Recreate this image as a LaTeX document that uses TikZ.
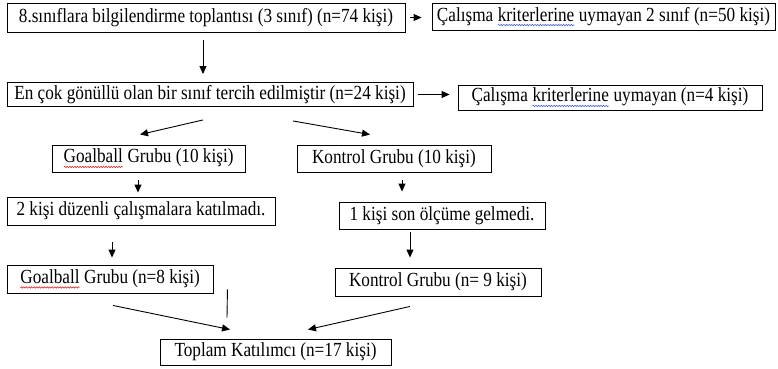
\documentclass[tikz,border=0pt]{standalone}
\usepackage{fontspec}
\setmainfont{Liberation Serif}[FakeStretch=0.86]
\usepackage{tikz}
\usetikzlibrary{arrows.meta,decorations.pathmorphing}
\definecolor{spellred}{RGB}{220,40,40}
\definecolor{spellblue}{RGB}{70,100,210}
\newcommand{\wavy}[2]{\tikz[baseline=(w.base)]{\node[draw=none,minimum width=0pt,minimum height=0pt,
    inner sep=0pt,outer sep=0pt] (w) {#2};
  \draw[#1,line width=0.6pt,decorate,decoration={snake,amplitude=0.7pt,segment length=2.6pt}]
    ([yshift=-4pt]w.base west) -- ([yshift=-4pt]w.base east);}}
\begin{document}
\begin{tikzpicture}[x=1pt,y=-1pt,
     box/.style={draw,line width=0.9pt,inner sep=0pt,minimum height=27pt,
       font=\fontsize{20}{23}\selectfont},
     arr/.style={-{Triangle[length=8pt,width=7pt]},line width=0.9pt}]
    \useasboundingbox (0,0) rectangle (778,368);
    \node[box,minimum width=398pt,minimum height=29pt] (toplanti) at (206,17.5)
      {8.sınıflara bilgilendirme toplantısı (3 sınıf) (n=74 kişi)};
    \node[box,minimum width=343pt] (elenen) at (603.5,16.5)
      {Çalışma \wavy{spellblue}{kriterlerine} uymayan 2 sınıf (n=50 kişi)};
    \node[box,minimum width=406pt,minimum height=24pt] (secilen) at (210,94.5)
      {En çok gönüllü olan bir sınıf tercih edilmiştir (n=24 kişi)};
    \node[box,minimum width=304pt,minimum height=25pt] (uymayan) at (610,97.5)
      {Çalışma \wavy{spellblue}{kriterlerine} uymayan (n=4 kişi)};
    \node[box,minimum width=193pt] (goalball) at (148.5,158.5)
      {\wavy{spellred}{Goalball} Grubu (10 kişi)};
    \node[box,minimum width=194pt] (kontrol) at (394,158.5)
      {Kontrol Grubu (10 kişi)};
    \node[box,minimum width=268pt,minimum height=28pt] (katilmayan) at (141,211)
      {2 kişi düzenli çalışmalara katılmadı.};
    \node[box,minimum width=206pt] (gelmeyen) at (442,215.5)
      {1 kişi son ölçüme gelmedi.};
    \node[box,minimum width=206pt,minimum height=28pt] (goalsonra) at (110,279)
      {\wavy{spellred}{Goalball} Grubu (n=8 kişi)};
    \node[box,minimum width=206pt,minimum height=28pt] (kontsonra) at (438,282)
      {Kontrol Grubu (n= 9 kişi)};
    \node[box,minimum width=231pt,minimum height=26pt] (toplam) at (275.5,352)
      {Toplam Katılımcı (n=17 kişi)};
    % arrows
    \draw[arr,shorten <=5pt,shorten >=10pt] (toplanti.east) -- (toplanti.east -| elenen.west);
    \draw[arr,shorten <=8pt,shorten >=8pt] ([xshift=-3pt]toplanti.south) -- ([xshift=-7pt]secilen.north);
    \draw[arr,shorten <=5pt,shorten >=8pt] (secilen.east) -- (secilen.east -| uymayan.west);
    \draw[arr] ([xshift=-7pt,yshift=-13pt]secilen.south) -- ([xshift=-8.5pt,yshift=10pt]goalball.north);
    \draw[arr] ([xshift=83pt,yshift=-14pt]secilen.south) -- ([xshift=-24pt,yshift=10pt]kontrol.north);
    \draw[arr,shorten <=8pt,shorten >=4pt] ([xshift=-10.5pt]goalball.south) -- ([xshift=-3pt]katilmayan.north);
    \draw[arr,shorten <=8pt,shorten >=10pt] ([xshift=8pt]kontrol.south) -- ([xshift=-40pt]gelmeyen.north);
    \draw[arr,shorten <=17pt,shorten >=7pt] ([xshift=-29pt]katilmayan.south) -- ([xshift=2pt]goalsonra.north);
    \draw[arr,shorten <=3pt,shorten >=10pt] ([xshift=-32pt]gelmeyen.south) -- ([xshift=-28pt]kontsonra.north);
    \draw[line width=0.9pt] ([xshift=14pt,yshift=4pt]goalsonra.south east) -- ([xshift=-48.5pt,yshift=21pt]toplam.north);
    \draw[arr] ([xshift=3pt,yshift=-12pt]goalsonra.south) -- ([xshift=-45.5pt,yshift=9pt]toplam.north);
    \draw[arr] ([xshift=-28pt,yshift=-10pt]kontsonra.south) -- ([xshift=32.5pt,yshift=9pt]toplam.north);
  \end{tikzpicture}
\end{document}
